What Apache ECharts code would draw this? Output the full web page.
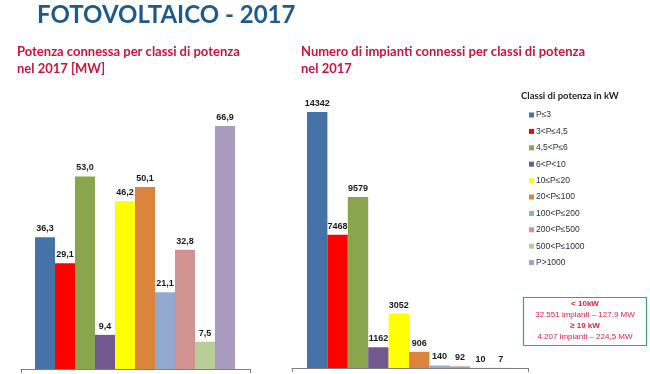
<!DOCTYPE html>
<html><head><meta charset="utf-8">
<script src="https://cdn.jsdelivr.net/npm/echarts@6/dist/echarts.min.js"></script>
<style>html,body{margin:0;padding:0;background:#fff}#c{width:650px;height:374px}</style>
</head><body><div id="c"></div>
<script>
const categories = ['P≤3','3<P≤4,5','4,5<P≤6','6<P<10','10≤P≤20','20<P≤100','100<P≤200','200<P≤500','500<P≤1000','P>1000'];
const powerMW = [36.3, 29.1, 53.0, 9.4, 46.2, 50.1, 21.1, 32.8, 7.5, 66.9];
const plantCount = [14342, 7468, 9579, 1162, 3052, 906, 140, 92, 10, 7];
const classColors = ['#4572a7','#ff0000','#89a54e','#71588f','#ffff00','#db843d','#93a9cf','#d19392','#b9cd96','#a99bbd'];
const mainTitle = 'FOTOVOLTAICO - 2017';
const leftTitle = 'Potenza connessa per classi di potenza\nnel 2017 [MW]';
const rightTitle = 'Numero di impianti connessi per classi di potenza\nnel 2017';
const legendTitle = 'Classi di potenza in kW';
const boxLines = ['< 10kW', '32.551 impianti – 127,9 MW', '≥ 10 kW', '4.207 impianti – 224,5 MW'];

const chart = echarts.init(document.getElementById('c'), null, {renderer:'canvas'});
const red = '#c8153c';
const labelFont = {fontFamily:'Liberation Sans, Arial, sans-serif', fontWeight:'bold', fontSize:9, color:'#1a1a1a'};

function makeSeries(values, axisIdx, fmt) {
  return categories.map((name, i) => ({
    type:'bar', name: name, xAxisIndex: axisIdx, yAxisIndex: axisIdx,
    barWidth: '100%', barGap: '-100%',
    itemStyle:{color: classColors[i]},
    label:{show:true, position:'top', distance:4, ...labelFont, formatter: p => fmt(p.value)},
    data: values.map((v, j) => j === i ? v : '-'),
    animation:false
  }));
}

const option = {
  animation:false,
  title:[
    {text: mainTitle, left: 32, top: -2, textStyle:{fontFamily:'Lato', fontWeight:'bold', fontSize:24, color:'#1f5a8e'}},
    {text: leftTitle, left: 12, top: 38, textStyle:{fontFamily:'Lato', fontWeight:'bold', fontSize:13, lineHeight:17, color:red}},
    {text: rightTitle, left: 296, top: 38, textStyle:{fontFamily:'Lato', fontWeight:'bold', fontSize:13, lineHeight:17, color:red}},
    {text: legendTitle, left: 516, top: 86, textStyle:{fontFamily:'Lato', fontWeight:'bold', fontSize:9.5, color:'#222'}}
  ],
  legend:{
    data: categories, orient:'vertical', left: 524, top: 105,
    icon:'rect', itemWidth:5, itemHeight:5, itemGap:6.4,
    textStyle:{fontFamily:'Liberation Sans, Arial, sans-serif', fontSize:8.5, color:'#2a2f3a', lineHeight:10, padding:[0,0,0,-3]},
    selectedMode:false
  },
  grid:[
    {left:35, width:200, top:78.4, bottom:5},
    {left:307, width:204, top:82.4, bottom:6},
    {left:21, width:229, top:78.4, bottom:5},
    {left:292, width:236, top:82.4, bottom:6}
  ],
  xAxis:[
    {type:'category', gridIndex:0, data:categories, show:false},
    {type:'category', gridIndex:1, data:categories, show:false},
    {type:'value', gridIndex:2, min:0, max:1, interval:1, axisLine:{show:true, lineStyle:{color:'#7f7f7f'}}, axisTick:{show:true, length:4, lineStyle:{color:'#7f7f7f'}}, axisLabel:{show:false}, splitLine:{show:false}},
    {type:'value', gridIndex:3, min:0, max:1, interval:1, axisLine:{show:true, lineStyle:{color:'#7f7f7f'}}, axisTick:{show:true, length:4, lineStyle:{color:'#7f7f7f'}}, axisLabel:{show:false}, splitLine:{show:false}}
  ],
  yAxis:[
    {type:'value', gridIndex:0, min:0, max:80, show:false},
    {type:'value', gridIndex:1, min:0, max:16000, show:false},
    {type:'value', gridIndex:2, show:false},
    {type:'value', gridIndex:3, show:false}
  ],
  series:[
    ...makeSeries(powerMW, 0, v => Number(v).toFixed(1).replace('.', ',')),
    ...makeSeries(plantCount, 1, v => String(v))
  ],
  graphic:[
    {type:'rect', shape:{x:523.5, y:297.5, width:123, height:48}, style:{fill:'#fff', stroke:'#3ca46c', lineWidth:1.2}},
    ...boxLines.map((t, i) => ({
      type:'text', x:585, y:304 + i*11,
      style:{text:t, align:'center', verticalAlign:'middle', fill:'#e4203c',
        font:(i % 2 === 0 ? 'bold ' : '') + '8px "Liberation Sans", Arial, sans-serif'}
    }))
  ]
};
chart.setOption(option);
</script></body></html>
